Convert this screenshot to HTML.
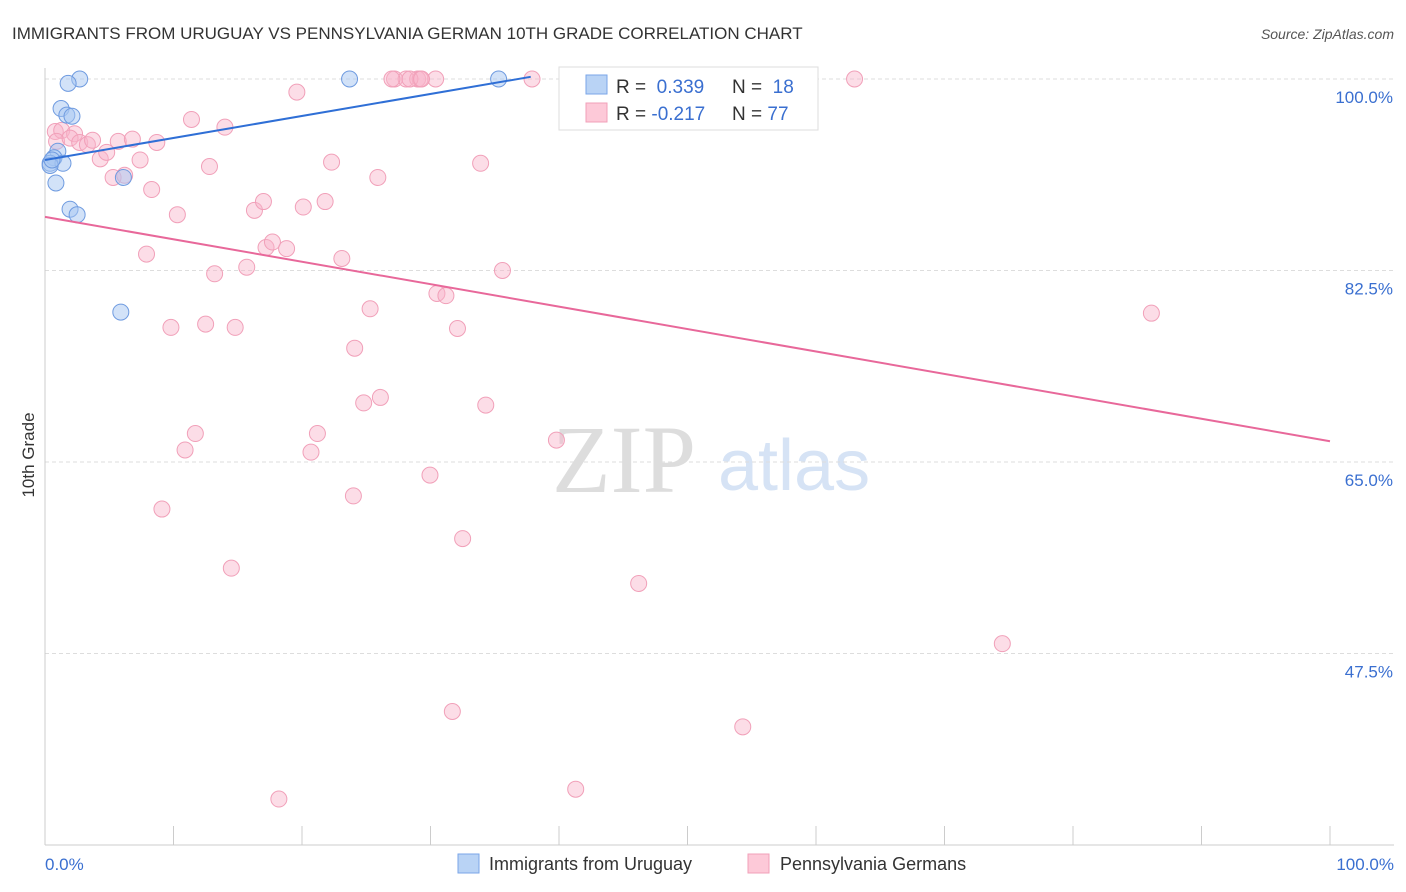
<!DOCTYPE html>
<html><head><meta charset="utf-8"><style>
body{margin:0;background:#fff;font-family:"Liberation Sans",sans-serif;}
svg{display:block}
</style></head><body>
<svg id="chart" width="1406" height="892">
<text x="12" y="39" font-size="17" fill="#333">IMMIGRANTS FROM URUGUAY VS PENNSYLVANIA GERMAN 10TH GRADE CORRELATION CHART</text>
<text x="1394" y="39" font-size="14" fill="#555" text-anchor="end" font-style="italic">Source: ZipAtlas.com</text>
<text x="552" y="492" font-size="96" fill="#ddd" font-family="Liberation Serif">ZIP</text>
<text x="718" y="490" font-size="72" fill="#d6e3f5">atlas</text>
<g id="grid"></g>
<g id="marks"></g>
<text transform="translate(34,455) rotate(-90)" font-size="17" fill="#333" text-anchor="middle">10th Grade</text>
<text x="45" y="870" font-size="17" fill="#3a6fd0">0.0%</text>
<text x="1394" y="870" font-size="17" fill="#3a6fd0" text-anchor="end">100.0%</text>
<g>
<rect x="559" y="67" width="259" height="63" fill="#fff" stroke="#ddd"/>
<rect x="586" y="75" width="21" height="19" fill="#b9d3f5" stroke="#7aa6e8"/>
<rect x="586" y="103" width="21" height="19" fill="#fdc9d8" stroke="#f1a0b9"/>
<text x="616" y="93" font-size="19" fill="#333">R = <tspan fill="#3a6fd0">&#160;0.339</tspan></text>
<text x="732" y="93" font-size="19" fill="#333">N = <tspan fill="#3a6fd0">&#160;18</tspan></text>
<text x="616" y="120" font-size="19" fill="#333">R = <tspan fill="#3a6fd0">-0.217</tspan></text>
<text x="732" y="120" font-size="19" fill="#333">N = <tspan fill="#3a6fd0">77</tspan></text>
</g>
<g>
<rect x="458" y="854" width="21" height="19" fill="#b9d3f5" stroke="#7aa6e8"/>
<text x="489" y="870" font-size="18" fill="#333">Immigrants from Uruguay</text>
<rect x="748" y="854" width="21" height="19" fill="#fdc9d8" stroke="#f1a0b9"/>
<text x="780" y="870" font-size="18" fill="#333">Pennsylvania Germans</text>
</g>
</svg>
<script>
const yTicks=[100,82.5,65,47.5];
const yTickLabels=["100.0%","82.5%","65.0%","47.5%"];
const xTicks=[0,10,20,30,40,50,60,70,80,90,100];
const uruguayX=[2.7,1.8,23.7,35.3,1.25,1.7,2.1,1.0,0.7,0.4,1.4,0.4,0.85,6.1,1.95,2.5,5.9,0.55];
const uruguayY=[100,99.6,100,100,97.3,96.7,96.6,93.4,92.8,92.3,92.3,92.1,90.5,91.0,88.1,87.6,78.7,92.6];
const pennX=[0.8,1.3,2.3,0.9,1.95,2.7,3.3,3.7,4.3,4.8,5.3,5.7,6.2,6.8,7.4,8.3,8.7,7.9,9.8,9.1,10.3,10.9,11.4,11.7,12.5,12.8,13.2,14.0,14.5,14.8,15.7,16.3,17.0,17.2,17.7,18.8,18.2,19.6,20.1,20.7,21.2,21.8,22.3,23.1,24.1,24.0,24.8,25.3,25.9,26.1,27.2,28.1,29.0,29.2,30.4,29.96,30.5,31.2,31.7,32.1,32.5,33.9,34.3,35.6,37.9,39.8,41.3,46.2,46.9,54.3,58.6,63.0,74.5,86.1,28.4,29.3,27.0];
const pennY=[95.2,95.3,95.0,94.3,94.6,94.2,94.0,94.4,92.7,93.3,91.0,94.3,91.2,94.5,92.6,89.9,94.2,84.0,77.3,60.7,87.6,66.1,96.3,67.6,77.6,92.0,82.2,95.6,55.3,77.3,82.8,88.0,88.8,84.6,85.1,84.5,34.2,98.8,88.3,65.9,67.6,88.8,92.4,83.6,75.4,61.9,70.4,79.0,91.0,70.9,100,100,100,100,100,63.8,80.4,80.2,42.2,77.2,58.0,92.3,70.2,82.5,100,67.0,35.1,53.9,100,40.8,100,100,48.4,78.6,100,100,100];
const X0=45,X1=1330,Y100=79,PXPER=191.5/17.5;
const xs=v=>X0+(X1-X0)*v/100;
const ys=v=>Y100+(100-v)*PXPER;
const NS="http://www.w3.org/2000/svg";
const grid=document.getElementById('grid'),marks=document.getElementById('marks');
function mk(tag,attrs,parent){const e=document.createElementNS(NS,tag);for(const k in attrs)e.setAttribute(k,attrs[k]);parent.appendChild(e);return e;}
yTicks.forEach((t,i)=>{
 const l=mk('line',{x1:45,x2:1394,y1:ys(t),y2:ys(t),stroke:'#ddd','stroke-dasharray':'4,3'},grid);
 
 
 const tx=mk('text',{x:1393,y:ys(t)+24,'font-size':17,fill:'#3a6fd0','text-anchor':'end'},grid);
 tx.textContent=yTickLabels[i];
 
 
});
const ax=mk('line',{x1:45,x2:1394,y1:845,y2:845,stroke:'#ccc'},grid);


const ay=mk('line',{x1:45,x2:45,y1:68,y2:845,stroke:'#ccc'},grid);


xTicks.forEach(t=>{
 const l=mk('line',{x1:xs(t),x2:xs(t),y1:826,y2:845,stroke:'#ccc'},grid);
 
 
});
pennX.forEach((v,i)=>{
 const c=mk('circle',{cx:xs(v),cy:ys(pennY[i]),r:8,fill:'rgba(248,180,202,0.45)',stroke:'#f1a0b9','stroke-width':1},marks);
 
 
});
uruguayX.forEach((v,i)=>{
 const c=mk('circle',{cx:xs(v),cy:ys(uruguayY[i]),r:8,fill:'rgba(165,198,242,0.5)',stroke:'#6f9be0','stroke-width':1},marks);
 
 
});
const pt=mk('line',{x1:xs(0),y1:ys(87.4),x2:xs(100),y2:ys(66.9),stroke:'#e8689a','stroke-width':2},marks);


const bt=mk('line',{x1:xs(0),y1:ys(92.6),x2:xs(37.8),y2:ys(100.2),stroke:'#2f6fd6','stroke-width':2},marks);


</script>
</body></html>
